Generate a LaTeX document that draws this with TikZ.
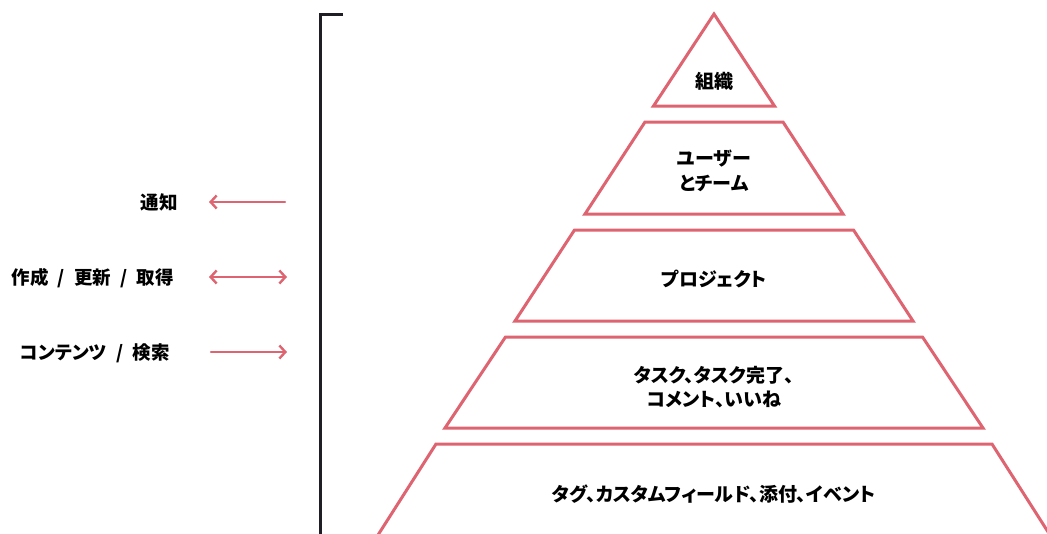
\documentclass[tikz,border=0pt]{standalone}
\usepackage{fontspec}
\newfontfamily\jp{Noto Sans CJK JP}[RawFeature=+palt]
\usetikzlibrary{arrows.meta}
\definecolor{pyr}{HTML}{DD6470}
\definecolor{brk}{HTML}{1E1E24}
\newcommand\slashsep{\hspace{0.5em}/\hspace{0.5em}}
\tikzset{
  layer/.style={draw=pyr, line width=3pt, line join=miter},
  lbl/.style={font=\jp\bfseries\fontsize{19}{24.5}\selectfont, align=center, text=black, inner sep=0pt},
  side/.style={font=\jp\bfseries\fontsize{18.5}{22}\selectfont, anchor=east, text=black, inner sep=0pt},
  flow/.style={draw=pyr, line width=2.4pt, line cap=round},
  barbtip/.tip={Straight Barb[length=6pt, width=13pt, line width=2.4pt]}
}
\begin{document}
\begin{tikzpicture}[x=1pt, y=-1pt]
\useasboundingbox (0,0) rectangle (1047,533);
\fill[white] (0,0) rectangle (1047,533);
\clip (0,0) rectangle (1047,533);
% bracket
\draw[brk, line width=3pt] (343,14) -- (320,14) -- (320,540);
% pyramid
\draw[layer] (714,14) -- (774.5,106) -- (653.5,106) -- cycle;
\draw[layer] (645,122) -- (783,122) -- (843,214) -- (585,214) -- cycle;
\draw[layer] (574.5,230) -- (853.5,230) -- (913,321) -- (515,321) -- cycle;
\draw[layer] (505.5,337) -- (922.5,337) -- (983,428) -- (445,428) -- cycle;
\draw[layer] (378,535) -- (436,444) -- (992,444) -- (1050,535);
% labels
\node[lbl] (org) at (714,81) {組織};
\node[lbl] (users) at (714,171) {ユーザー\\とチーム};
\node[lbl] (proj) at (714,279) {プロジェクト};
\node[lbl] (tasks) at (714,387) {タスク、タスク完了、\\コメント、いいね};
\node[lbl] (tags) at (714,494) {タグ、カスタムフィールド、添付、イベント};
% side labels
\node[side] (notif) at (178,202) {通知};
\node[side] (crud) at (174,278) {作成\slashsep 更新\slashsep 取得};
\node[side] (search) at (170,353) {コンテンツ\slashsep 検索};
\coordinate (n1) at (285,202);
\coordinate (n2) at (209,202);
\coordinate (c1) at (209,277);
\coordinate (c2) at (287,277);
\coordinate (s1) at (211,352);
\coordinate (s2) at (287,352);
\draw[flow, -{barbtip}] (n1) -- (n2);
\draw[flow, {barbtip}-{barbtip}] (c1) -- (c2);
\draw[flow, -{barbtip}] (s1) -- (s2);
\end{tikzpicture}
\end{document}
